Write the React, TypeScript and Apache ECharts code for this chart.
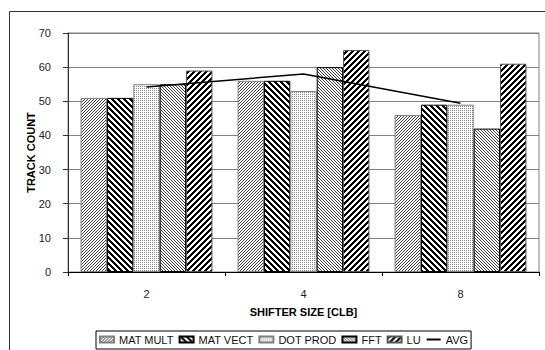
import React, { useEffect, useRef } from "react";
import * as echarts from "echarts";

// Shifter size categories and the track counts for each benchmark
const categories = ["2", "4", "8"];
const matMult = [51, 56, 46];
const matVect = [51, 56, 49];
const dotProd = [55, 53, 49];
const fft = [55, 60, 42];
const lu = [59, 65, 61];
const avg = [54.2, 58, 49.4];

const FONT = '"Liberation Sans", Arial, sans-serif';

// Build a small monochrome tile and return it as a repeating image pattern
function tile(size: number, on: (x: number, y: number) => boolean, ink: string) {
  const c = document.createElement("canvas");
  c.width = size;
  c.height = size;
  const ctx = c.getContext("2d")!;
  ctx.fillStyle = "#ffffff";
  ctx.fillRect(0, 0, size, size);
  ctx.fillStyle = ink;
  for (let y = 0; y < size; y++) {
    for (let x = 0; x < size; x++) {
      if (on(x, y)) ctx.fillRect(x, y, 1, 1);
    }
  }
  return {
    image: c.toDataURL(),
    imageWidth: size,
    imageHeight: size,
    repeat: "repeat",
  } as any;
}

const mod = (a: number, n: number) => ((a % n) + n) % n;
const upDiag = (p: number, t: number, ink: string) =>
  tile(p, (x, y) => mod(x + y, p) < t, ink);
const downDiag = (p: number, t: number, ink: string) =>
  tile(p, (x, y) => mod(x - y, p) < t, ink);
const dots = (ink: string) => tile(2, (x, y) => x === 0 && y === 0, ink);

export default function App() {
  const ref = useRef<HTMLDivElement>(null);

  useEffect(() => {
    if (!ref.current) return;
    const chart = echarts.init(ref.current, undefined, { renderer: "svg" });

    const barSeries = (name: string, data: number[], fill: any, border: string) => ({
      name,
      type: "bar",
      data,
      barGap: "0%",
      barCategoryGap: "16%",
      itemStyle: { color: fill, borderColor: border, borderWidth: 1 },
    });

    chart.setOption({
      animation: false,
      backgroundColor: "#ffffff",
      textStyle: { fontFamily: FONT },
      grid: {
        left: 68,
        right: 6,
        top: 33,
        bottom: 78,
        show: true,
        borderColor: "#808080",
        borderWidth: 1,
      },
      graphic: [
        {
          type: "rect",
          shape: { x: 9.5, y: 11.5, width: 600, height: 400 },
          style: { fill: "none", stroke: "#333", lineWidth: 1 },
          silent: true,
          z: -1,
        },
      ],
      legend: {
        left: 96,
        top: 331,
        orient: "horizontal",
        selectedMode: false,
        borderColor: "#000",
        borderWidth: 1,
        padding: [3, 3, 4, 3],
        itemWidth: 14,
        itemHeight: 6,
        itemGap: 5,
        textStyle: { fontSize: 11, color: "#111", fontFamily: FONT },
        data: [
          { name: "MAT MULT", icon: "rect" },
          { name: "MAT VECT", icon: "rect" },
          { name: "DOT PROD", icon: "rect" },
          { name: "FFT", icon: "rect" },
          { name: "LU", icon: "rect" },
          { name: "AVG", itemStyle: { opacity: 0 } },
        ],
      },
      xAxis: {
        type: "category",
        data: categories,
        name: "SHIFTER SIZE [CLB]",
        nameLocation: "middle",
        nameGap: 34,
        nameMoveOverlap: false,
        nameTextStyle: { fontWeight: "bold", fontSize: 11, color: "#000", fontFamily: FONT },
        axisLine: { lineStyle: { color: "#000", width: 1 } },
        axisTick: { show: true, length: 4, lineStyle: { color: "#000" } },
        axisLabel: { fontSize: 11, color: "#222", margin: 16, fontFamily: FONT },
      },
      yAxis: {
        type: "value",
        min: 0,
        max: 70,
        interval: 10,
        name: "TRACK COUNT",
        nameLocation: "middle",
        nameGap: 32,
        nameMoveOverlap: false,
        nameTextStyle: { fontWeight: "bold", fontSize: 11, color: "#000", fontFamily: FONT },
        axisLine: { show: true, lineStyle: { color: "#333", width: 1 } },
        axisTick: { show: true, length: 5, lineStyle: { color: "#333" } },
        axisLabel: { fontSize: 11, color: "#222", margin: 17, fontFamily: FONT },
        splitLine: { show: true, lineStyle: { color: "#808080", width: 1 } },
      },
      series: [
        barSeries("MAT MULT", matMult, upDiag(3, 1, "#404040"), "#808080"),
        barSeries("MAT VECT", matVect, downDiag(6, 3, "#000"), "#000"),
        barSeries("DOT PROD", dotProd, dots("#888"), "#808080"),
        barSeries("FFT", fft, downDiag(3, 1, "#404040"), "#000"),
        barSeries("LU", lu, upDiag(6, 3, "#000"), "#555"),
        {
          name: "AVG",
          type: "line",
          data: avg,
          symbol: "none",
          lineStyle: { color: "#000", width: 1.5 },
          itemStyle: { color: "#000" },
          z: 5,
        },
      ],
    });

    return () => chart.dispose();
  }, []);

  return (
    <div
      ref={ref}
      style={{ position: "absolute", left: 0, top: 0, width: 545, height: 350 }}
    />
  );
}
